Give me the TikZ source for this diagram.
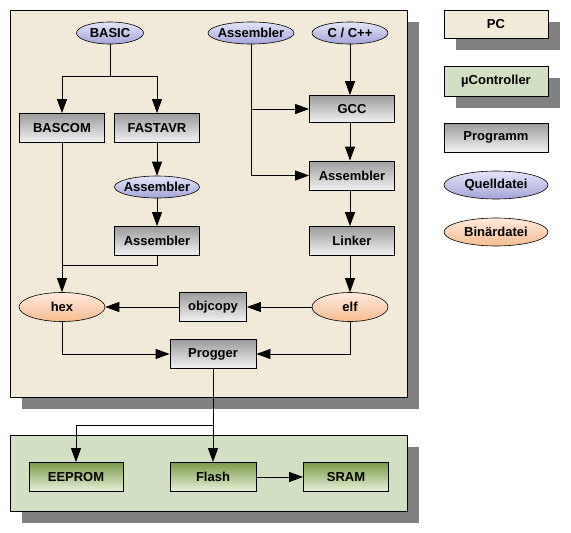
\documentclass[tikz,border=0pt]{standalone}
\usepackage{fontspec}
\setmainfont{Liberation Sans}
\usepackage{tikz}
\usetikzlibrary{arrows.meta,positioning,shapes.geometric,shadows}
\definecolor{pcbg}{HTML}{F2EAD8}
\definecolor{mcbg}{HTML}{D2DFC2}
\definecolor{shade}{HTML}{808080}
\definecolor{progtop}{HTML}{9C9C9C}
\definecolor{progbot}{HTML}{F2F2F2}
\definecolor{greentop}{HTML}{7A9A48}
\definecolor{greenbot}{HTML}{EAF2DC}
\definecolor{srctop}{HTML}{E4E4F8}
\definecolor{srcbot}{HTML}{A4A4DA}
\definecolor{bintop}{HTML}{FEEADC}
\definecolor{binbot}{HTML}{F6BC90}

\begin{document}
\begin{tikzpicture}[
  x=1pt,y=-1pt,
  font=\fontsize{13}{15}\selectfont\bfseries,
  panel/.style={draw=black,line width=0.8pt,inner sep=0pt,
                drop shadow={shadow xshift=12pt,shadow yshift=-12pt,fill=shade,opacity=1}},
  prog/.style={draw=black,line width=0.8pt,top color=progtop,bottom color=progbot,
               minimum width=85,minimum height=29,inner sep=0pt},
  chip/.style={prog,top color=greentop,bottom color=greenbot},
  srcfile/.style={ellipse,draw=black,line width=0.6pt,top color=srctop,bottom color=srcbot,
                  minimum width=86,minimum height=22,inner xsep=-4pt,inner ysep=-4pt},
  binfile/.style={srcfile,top color=bintop,bottom color=binbot,minimum height=29},
  ar/.style={-{Triangle[length=14pt,width=10pt]},line width=0.8pt},
  ln/.style={line width=0.8pt},
]
\useasboundingbox (0,0) rectangle (571,533);

% ---- Panels
\node[panel,fill=pcbg,minimum width=397,minimum height=387] (pc) at (208.5,203.5) {};
\node[panel,fill=mcbg,minimum width=397,minimum height=76] (mc) at (208.5,473) {};

% ---- Sources
\node[srcfile,minimum width=67] (basic) at (110,33) {BASIC};
\node[srcfile] (asmsrc) at (251,33) {Assembler};
\node[srcfile,minimum width=76] (cpp) at (350,33) {C / C++};

% ---- Basic branch
\node[prog] (bascom) at (62,128) {BASCOM};
\node[prog] (fastavr) at (157,128) {FASTAVR};
\node[srcfile,minimum width=85] (asmmid) at (157,187) {Assembler};
\node[prog] (asmbas) at (157,241) {Assembler};

% ---- GCC branch
\node[prog,minimum height=27] (gcc) at (352,109) {GCC};
\node[prog] (asmgcc) at (352,175.5) {Assembler};
\node[prog] (linker) at (352,241) {Linker};

% ---- Binaries
\node[binfile] (hex) at (62,307) {hex};
\node[binfile,minimum width=76] (elf) at (350,307) {elf};
\node[prog,minimum width=67] (objcopy) at (213,307) {objcopy};
\node[prog,minimum width=86] (progger) at (213,354) {Progger};

% ---- Controller
\node[chip,minimum width=94] (eeprom) at (76,477) {EEPROM};
\node[chip,minimum width=86] (flash) at (213,477) {Flash};
\node[chip] (sram) at (346,477) {SRAM};

% ---- Legend
\node[panel,fill=pcbg,minimum width=104,minimum height=28] (lpc) at (496,24) {PC};
\node[panel,fill=mcbg,minimum width=104,minimum height=30] (lmc) at (496,81) {µController};
\node[prog,minimum width=104] (lprog) at (496,137.5) {Programm};
\node[srcfile,minimum width=104,minimum height=28] (lsrc) at (496,185) {Quelldatei};
\node[binfile,minimum width=104,minimum height=28] (lbin) at (496,232) {Binärdatei};

% ---- Arrows
\coordinate (join) at (62,265);
\draw[ar] (basic.south) -- ++(0,32) -| (bascom.north);
\draw[ar] (basic.south) -- ++(0,32) -| (fastavr.north);
\draw[ar] (fastavr) -- (asmmid);
\draw[ar] (asmmid) -- (asmbas);
\draw[ln] (asmbas.south) |- (join);
\draw[ar] (bascom.south) -- (hex.north);
\draw[ar] (asmsrc.south) |- (gcc.west);
\draw[ar] (asmsrc.south) |- (asmgcc.west);
\draw[ar] (cpp.south) -- (cpp.south |- gcc.north);
\draw[ar] (gcc.south -| cpp.south) -- (asmgcc.north -| cpp.south);
\draw[ar] (asmgcc.south -| cpp.south) -- (linker.north -| cpp.south);
\draw[ar] (linker.south -| elf.north) -- (elf.north);
\draw[ar] (elf.west) -- (objcopy.east);
\draw[ar] (objcopy.west) -- (hex.east);
\draw[ar] (hex.south) |- (progger.west);
\draw[ar] (elf.south) |- (progger.east);
\draw[ar] (progger.south) -- (flash.north);
\draw[ar] (progger.south) -- ++(0,56) -| (eeprom.north);
\draw[ar] (flash.east) -- (sram.west);

\end{tikzpicture}
\end{document}
